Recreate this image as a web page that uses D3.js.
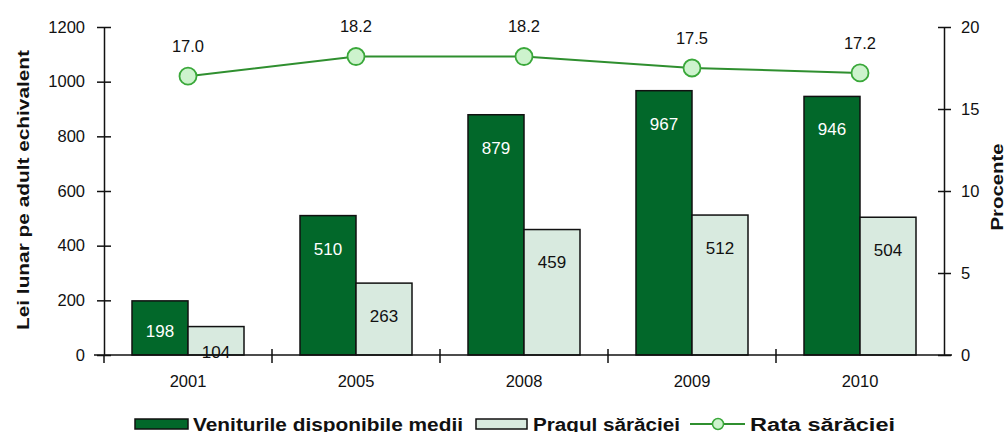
<!DOCTYPE html>
<html>
<head>
<meta charset="utf-8">
<script src="https://cdn.jsdelivr.net/npm/d3@7"></script>
<style>
  body { margin: 0; background: #fff; }
  svg { display: block; font-family: "Liberation Sans", Arial, sans-serif; }
</style>
</head>
<body>
<svg id="chart" width="1006" height="432"></svg>
<script>
// data
var years = ["2001", "2005", "2008", "2009", "2010"];
var venituri = [198, 510, 879, 967, 946];   // Veniturile disponibile medii
var prag = [104, 263, 459, 512, 504];       // Pragul saraciei
var rata = [17.0, 18.2, 18.2, 17.5, 17.2];  // Rata saraciei (%)
var leftTicks = [0, 200, 400, 600, 800, 1000, 1200];
var rightTicks = [0, 5, 10, 15, 20];

var dark = "#02682a", light = "#d8eadf";
var fs = 16.5;

var svg = d3.select("#chart");
var pL = 104, pR = 944, pT = 27, pB = 355;

var x = d3.scaleBand().domain(years).range([pL, pR]);
var x1 = d3.scaleBand().domain([0, 1]).range([28, 140]);
var y = d3.scaleLinear().domain([0, 1200]).range([pB, pT]);
var y2 = d3.scaleLinear().domain([0, 20]).range([pB, pT]);

// bars
var series = [venituri, prag];
series.forEach(function (vals, s) {
  var g = svg.append("g");
  g.selectAll("rect").data(vals).enter().append("rect")
    .attr("x", function (d, i) { return x(years[i]) + x1(s); })
    .attr("y", function (d) { return y(d); })
    .attr("width", x1.bandwidth())
    .attr("height", function (d) { return pB - y(d); })
    .attr("fill", s === 0 ? dark : light)
    .attr("stroke", "#111").attr("stroke-width", 1.5);
  g.selectAll("text").data(vals).enter().append("text")
    .attr("x", function (d, i) { return x(years[i]) + x1(s) + x1.bandwidth() / 2; })
    .attr("y", function (d) {
      var h = pB - y(d);
      return y(d) + Math.min(33, Math.max(h / 2 + 3, 25));
    })
    .attr("dy", "0.35em")
    .attr("text-anchor", "middle")
    .attr("font-size", 17)
    .attr("fill", s === 0 ? "#fff" : "#111")
    .text(function (d) { return d; });
});

// axes
var axL = svg.append("g").attr("transform", "translate(" + pL + ",0)")
  .call(d3.axisLeft(y).tickValues(leftTicks).tickFormat(d3.format("d")).tickSizeInner(7).tickSizeOuter(0).tickPadding(12));
axL.selectAll(".tick line").attr("x2", 7).attr("x1", -7);
var axR = svg.append("g").attr("transform", "translate(" + pR + ",0)")
  .call(d3.axisRight(y2).tickValues(rightTicks).tickSizeInner(7).tickSizeOuter(0).tickPadding(10));
axR.selectAll(".tick line").attr("x1", -6).attr("x2", 7);

var axB = svg.append("g").attr("transform", "translate(0," + pB + ")")
  .call(d3.axisBottom(x).tickSize(0).tickPadding(20));
axB.select(".domain").remove();
svg.append("line").attr("x1", pL - 10).attr("x2", pR + 8)
  .attr("y1", pB).attr("y2", pB).attr("stroke", "#111").attr("stroke-width", 1.5);
// category separators
var seps = years.slice(1).map(function (yr) { return x(yr); });
svg.selectAll(".sep").data(seps).enter().append("line")
  .attr("x1", function (d) { return d; }).attr("x2", function (d) { return d; })
  .attr("y1", pB - 6).attr("y2", pB + 8)
  .attr("stroke", "#111").attr("stroke-width", 1.5);
svg.append("line").attr("x1", pL).attr("x2", pL).attr("y1", pB).attr("y2", pB + 8)
  .attr("stroke", "#111").attr("stroke-width", 1.5);

[axL, axR, axB].forEach(function (a) {
  a.selectAll("text").attr("font-size", fs).attr("fill", "#111")
    .attr("font-family", "Liberation Sans, Arial, sans-serif");
  a.selectAll("line, .domain").attr("stroke", "#111").attr("stroke-width", 1.5);
});

// axis titles
svg.append("text").attr("transform", "translate(29,190) rotate(-90)")
  .attr("text-anchor", "middle").attr("font-size", 17).attr("font-weight", "bold")
  .attr("textLength", 280).attr("lengthAdjust", "spacingAndGlyphs")
  .attr("fill", "#111").text("Lei lunar pe adult echivalent");
svg.append("text").attr("transform", "translate(1003,187) rotate(-90)")
  .attr("text-anchor", "middle").attr("font-size", 17).attr("font-weight", "bold")
  .attr("textLength", 87).attr("lengthAdjust", "spacingAndGlyphs")
  .attr("fill", "#111").text("Procente");

// rate line
var cx = function (d, i) { return x(years[i]) + x.bandwidth() / 2; };
var line = d3.line().x(cx).y(function (d) { return y2(d); });
svg.append("path").datum(rata).attr("d", line)
  .attr("fill", "none").attr("stroke", "#2f8f2f").attr("stroke-width", 2);
svg.selectAll(".pt").data(rata).enter().append("circle")
  .attr("cx", cx).attr("cy", function (d) { return y2(d); }).attr("r", 8.5)
  .attr("fill", "#cdf3cd").attr("stroke", "#3aa83a").attr("stroke-width", 1.8);
svg.selectAll(".pl").data(rata).enter().append("text")
  .attr("x", cx).attr("y", function (d) { return y2(d) - 30; })
  .attr("dy", "0.35em").attr("text-anchor", "middle")
  .attr("font-size", fs).attr("fill", "#111")
  .text(function (d) { return d.toFixed(1); });

// legend
var lg = svg.append("g").attr("font-size", 18).attr("font-weight", "bold").attr("fill", "#111");
lg.append("rect").attr("x", 135).attr("y", 419).attr("width", 53).attr("height", 10)
  .attr("fill", dark).attr("stroke", "#111").attr("stroke-width", 1.5);
lg.append("text").attr("x", 193).attr("y", 431)
  .attr("textLength", 270).attr("lengthAdjust", "spacingAndGlyphs")
  .text("Veniturile disponibile medii");
lg.append("rect").attr("x", 476).attr("y", 419).attr("width", 51).attr("height", 10)
  .attr("fill", light).attr("stroke", "#111").attr("stroke-width", 1.5);
lg.append("text").attr("x", 533).attr("y", 431)
  .attr("textLength", 147).attr("lengthAdjust", "spacingAndGlyphs")
  .text("Pragul s\u0103r\u0103ciei");
lg.append("line").attr("x1", 690).attr("x2", 745).attr("y1", 424).attr("y2", 424)
  .attr("stroke", "#2f8f2f").attr("stroke-width", 2);
lg.append("circle").attr("cx", 718).attr("cy", 424).attr("r", 5.5)
  .attr("fill", "#cdf3cd").attr("stroke", "#3aa83a").attr("stroke-width", 1.5);
lg.append("text").attr("x", 750).attr("y", 431)
  .attr("textLength", 145).attr("lengthAdjust", "spacingAndGlyphs")
  .text("Rata s\u0103r\u0103ciei");
</script>
</body>
</html>
